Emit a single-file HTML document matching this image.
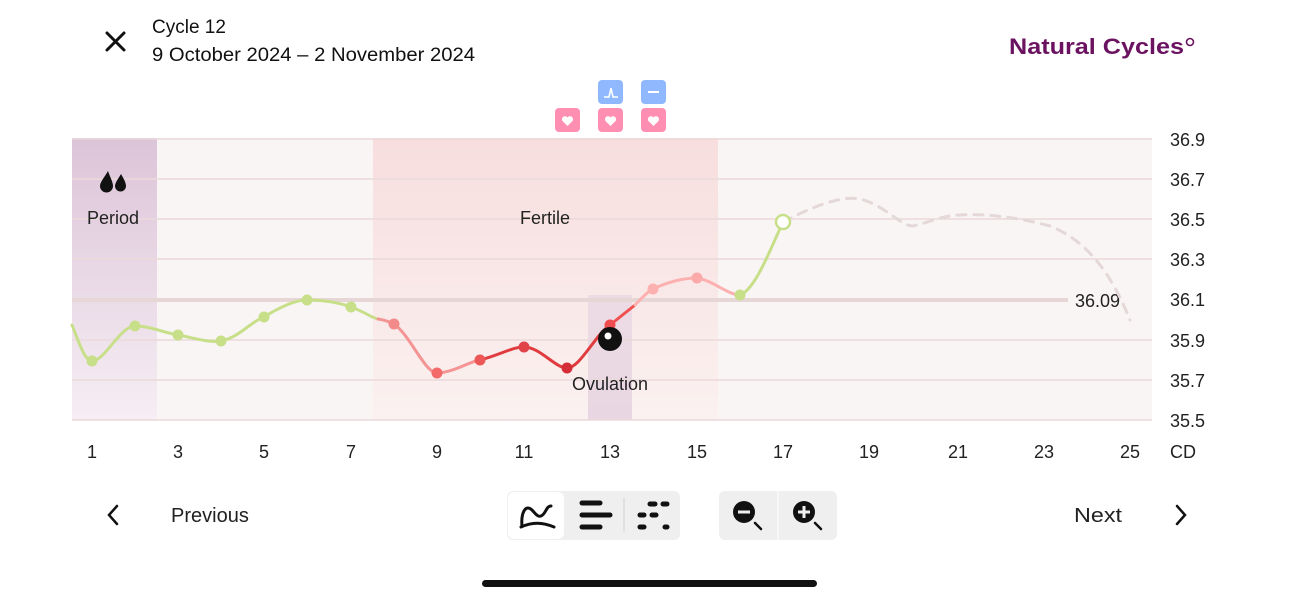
<!DOCTYPE html>
<html><head><meta charset="utf-8"><style>
html,body{margin:0;padding:0;background:#fff;}
svg{display:block;font-family:"Liberation Sans",sans-serif;}
</style></head><body>
<svg width="1298" height="600" viewBox="0 0 1298 600" xmlns="http://www.w3.org/2000/svg">
<defs>
<linearGradient id="pg" x1="0" y1="0" x2="0" y2="1"><stop offset="0" stop-color="#dcc4d8"/><stop offset="1" stop-color="#f6eef4"/></linearGradient>
<linearGradient id="fg" x1="0" y1="0" x2="0" y2="1"><stop offset="0" stop-color="#f8dede"/><stop offset="1" stop-color="#faf1f0"/></linearGradient>
<linearGradient id="og" x1="0" y1="0" x2="0" y2="1"><stop offset="0" stop-color="#eddbe4"/><stop offset="1" stop-color="#e8d6e2"/></linearGradient>
</defs>
<path d="M107 33 L124 50 M124 33 L107 50" stroke="#111" stroke-width="3" stroke-linecap="round"/>
<text x="152" y="33" font-size="19" fill="#111">Cycle 12</text>
<text x="152" y="61" font-size="19" fill="#111" textLength="323" lengthAdjust="spacingAndGlyphs">9 October 2024 – 2 November 2024</text>
<text x="1009" y="54" font-size="22" font-weight="bold" fill="#6b1360" textLength="175" lengthAdjust="spacingAndGlyphs">Natural Cycles</text>
<circle cx="1190" cy="42" r="3.5" fill="none" stroke="#6b1360" stroke-width="1.6"/>
<rect x="598" y="80" width="25" height="24" rx="4" fill="#8fb8ff"/>
<path d="M604 97 H609 L611 88 L613 97 H618" stroke="#fff" stroke-width="1.6" fill="none"/>
<rect x="641" y="80" width="25" height="24" rx="4" fill="#8fb8ff"/>
<path d="M648 92 H659" stroke="#fff" stroke-width="2"/>
<g fill="#ff8fb2">
<rect x="555" y="108" width="25" height="24" rx="4"/><rect x="598" y="108" width="25" height="24" rx="4"/><rect x="641" y="108" width="25" height="24" rx="4"/></g>
<g fill="#fff">
<path d="M567.5 126 l-5 -5 a3 3 0 0 1 5 -3.5 a3 3 0 0 1 5 3.5z"/>
<path d="M610.5 126 l-5 -5 a3 3 0 0 1 5 -3.5 a3 3 0 0 1 5 3.5z"/>
<path d="M653.5 126 l-5 -5 a3 3 0 0 1 5 -3.5 a3 3 0 0 1 5 3.5z"/></g>
<rect x="72" y="138" width="1080" height="282" fill="#f9f5f5"/>
<rect x="72" y="138" width="85" height="282" fill="url(#pg)"/>
<rect x="373" y="138" width="345" height="282" fill="url(#fg)"/>
<rect x="588" y="295" width="44" height="125" fill="url(#og)"/>
<g stroke="#ead9da" stroke-width="1.5">
<line x1="72" y1="139" x2="1152" y2="139"/><line x1="72" y1="179" x2="1152" y2="179"/><line x1="72" y1="219" x2="1152" y2="219"/><line x1="72" y1="259" x2="1152" y2="259"/><line x1="72" y1="340" x2="1152" y2="340"/><line x1="72" y1="380" x2="1152" y2="380"/><line x1="72" y1="420" x2="1152" y2="420"/></g>
<line x1="72" y1="300" x2="1068" y2="300" stroke="#e6d6d6" stroke-width="4"/>
<text x="1075" y="307" font-size="18" fill="#222">36.09</text>
<g font-size="18" fill="#222">
<text x="1170" y="146">36.9</text><text x="1170" y="186">36.7</text><text x="1170" y="226">36.5</text><text x="1170" y="266">36.3</text><text x="1170" y="306">36.1</text><text x="1170" y="347">35.9</text><text x="1170" y="387">35.7</text><text x="1170" y="427">35.5</text>
</g>
<g font-size="18" fill="#222" text-anchor="middle">
<text x="92" y="458">1</text><text x="178" y="458">3</text><text x="264" y="458">5</text><text x="351" y="458">7</text><text x="437" y="458">9</text><text x="524" y="458">11</text><text x="610" y="458">13</text><text x="697" y="458">15</text><text x="783" y="458">17</text><text x="869" y="458">19</text><text x="958" y="458">21</text><text x="1044" y="458">23</text><text x="1130" y="458">25</text></g>
<text x="1170" y="458" font-size="18" fill="#222">CD</text>
<path d="M108 171 c-4 7 -8 11 -8 15 a6.5 6.5 0 0 0 13 0 c0 -4 -3 -9 -5 -15z M121 174 c-3 5 -6 9 -6 12 a5.5 5.5 0 0 0 11 0 c0 -3 -2 -7 -5 -12z" fill="#111"/>
<text x="113" y="224" font-size="18" fill="#222" text-anchor="middle">Period</text>
<text x="545" y="224" font-size="18" fill="#222" text-anchor="middle">Fertile</text>
<text x="610" y="390" font-size="18" fill="#222" text-anchor="middle">Ovulation</text>
<g fill="none" stroke-width="3" stroke-linecap="round">
<path d="M72 325 C80 345 85 361 92 361 C105 361 120 326 135 326 C150 326 165 333 178 335 C195 338 208 343 221 341 C240 337 250 322 264 317 C280 307 295 300 307 300 C325 300 340 303 351 307 C365 312 372 318 378 319" stroke="#c8df8a"/>
<path d="M378 319 C385 320 390 322 394 324 C410 335 425 373 437 373 C455 372 468 362 480 360" stroke="#f49494"/>
<path d="M480 360 C500 355 512 347 524 347 C540 347 555 368 567 368 C580 368 595 335 610 325" stroke="#e03c40"/>
<path d="M610 325 L635 305" stroke="#f05050"/>
<path d="M635 305 C642 298 648 291 653 289 C668 282 684 278 697 278 C712 280 728 295 740 295" stroke="#fdb0b0"/>
<path d="M740 295 C755 290 770 250 783 222" stroke="#c8df8a"/>
<path d="M783 222 C810 208 840 195 860 199 C885 205 900 226 913 226 C930 222 945 215 960 215 C985 213 1020 218 1050 226 C1085 240 1110 270 1130 320" stroke="#e4d8d8" stroke-dasharray="9 8"/>
</g>
<g>
<circle cx="92" cy="361" r="5.5" fill="#c8df8a"/><circle cx="135" cy="326" r="5.5" fill="#c8df8a"/><circle cx="178" cy="335" r="5.5" fill="#c8df8a"/><circle cx="221" cy="341" r="5.5" fill="#c8df8a"/><circle cx="264" cy="317" r="5.5" fill="#c8df8a"/><circle cx="307" cy="300" r="5.5" fill="#c8df8a"/><circle cx="351" cy="307" r="5.5" fill="#c8df8a"/>
<circle cx="394" cy="324" r="5.5" fill="#f28a8a"/><circle cx="437" cy="373" r="5.5" fill="#f26a6a"/><circle cx="480" cy="360" r="5.5" fill="#ec5858"/><circle cx="524" cy="347" r="5.5" fill="#e04448"/><circle cx="567" cy="368" r="5.5" fill="#d42f38"/><circle cx="610" cy="325" r="5.5" fill="#f04e4e"/>
<circle cx="653" cy="289" r="5.5" fill="#fdb0b0"/><circle cx="697" cy="278" r="5.5" fill="#fba9a9"/><circle cx="740" cy="295" r="5.5" fill="#c8df8a"/>
<circle cx="783" cy="222" r="7" fill="#fff" stroke="#c8df8a" stroke-width="2.5"/>
<circle cx="610" cy="339" r="12" fill="#111"/><circle cx="608" cy="336" r="3.5" fill="#fff"/>
</g>
<path d="M117 506 L109 515 L117 524" stroke="#111" stroke-width="2.5" fill="none" stroke-linecap="round"/>
<text x="171" y="522" font-size="20" fill="#222">Previous</text>
<text x="1074" y="522" font-size="20" fill="#222" textLength="48" lengthAdjust="spacingAndGlyphs">Next</text>
<path d="M1177 506 L1185 515 L1177 524" stroke="#111" stroke-width="2.5" fill="none" stroke-linecap="round"/>
<rect x="507" y="491" width="173" height="49" rx="6" fill="#efefef"/>
<rect x="508" y="492" width="56" height="47" rx="6" fill="#fff"/>
<path d="M522 526 C521 515 524 508 528 508 C533 508 536 518 541 516 C546 514 546 506 551 506" stroke="#111" stroke-width="3" fill="none" stroke-linecap="round"/>
<path d="M521 527 C532 522 542 522 554 527" stroke="#111" stroke-width="3" fill="none" stroke-linecap="round"/>
<g stroke="#111" stroke-width="5" stroke-linecap="round">
<line x1="582" y1="503" x2="600" y2="503"/><line x1="582" y1="515" x2="610" y2="515"/><line x1="582" y1="527" x2="600" y2="527"/>
<line x1="650" y1="504" x2="655" y2="504"/><line x1="663" y1="504" x2="667" y2="504"/><line x1="640" y1="515" x2="644" y2="515"/><line x1="652" y1="515" x2="656" y2="515"/><line x1="640" y1="527" x2="644" y2="527"/><line x1="665" y1="527" x2="667" y2="527"/></g>
<line x1="624" y1="498" x2="624" y2="532" stroke="#d0d0d0" stroke-width="1"/>
<rect x="719" y="491" width="118" height="49" rx="6" fill="#efefef"/>
<line x1="778" y1="491" x2="778" y2="540" stroke="#fff" stroke-width="1"/>
<circle cx="744" cy="512" r="11" fill="#111"/><line x1="738" y1="512" x2="750" y2="512" stroke="#efefef" stroke-width="3"/><line x1="755" y1="523" x2="761" y2="529" stroke="#111" stroke-width="2.5" stroke-linecap="round"/>
<circle cx="804" cy="512" r="11" fill="#111"/><line x1="798" y1="512" x2="810" y2="512" stroke="#efefef" stroke-width="3"/><line x1="804" y1="506" x2="804" y2="518" stroke="#efefef" stroke-width="3"/><line x1="815" y1="523" x2="821" y2="529" stroke="#111" stroke-width="2.5" stroke-linecap="round"/>
<rect x="482" y="580" width="335" height="7" rx="3.5" fill="#111"/>
</svg>
</body></html>
